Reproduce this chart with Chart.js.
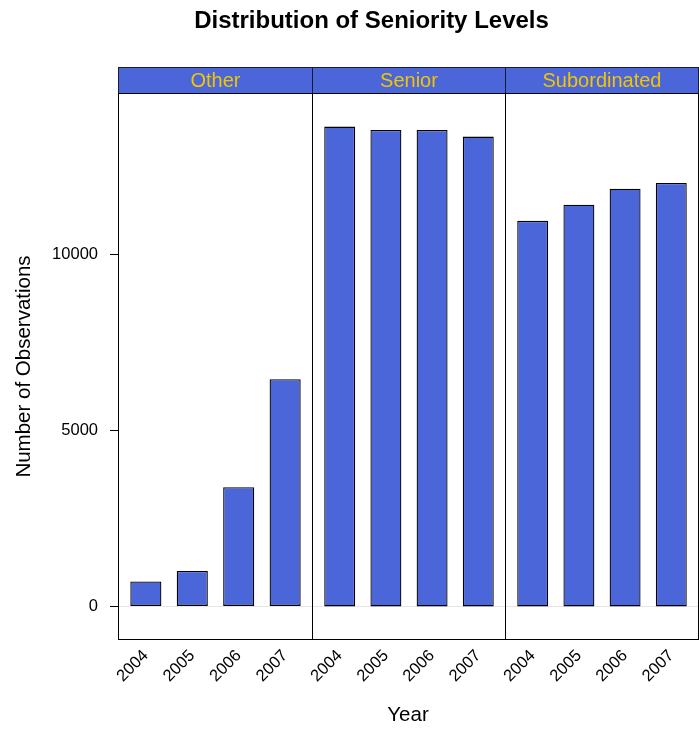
<!DOCTYPE html>
<html>
<head>
<meta charset="utf-8">
<script src="https://cdn.jsdelivr.net/npm/chart.js@4.4.1/dist/chart.umd.min.js"></script>
<style>
    body { margin: 0; background: #fff; font-family: "Liberation Sans", Arial, sans-serif; }
    #wrap { position: relative; width: 699px; height: 729px; overflow: hidden; }
    .panel { position: absolute; top: 0; height: 729px; }
    #title { position: absolute; top: 6px; left: 22px; width: 699px; text-align: center; font-weight: bold; font-size: 24px; }
    #xtitle { position: absolute; top: 702px; left: 118px; width: 580px; text-align: center; font-size: 20.5px; }
</style>
</head>
<body>
<div id="wrap">
    <div class="panel" style="left:0;width:313px"><canvas id="p0"></canvas></div>
    <div class="panel" style="left:292px;width:214px"><canvas id="p1"></canvas></div>
    <div class="panel" style="left:485px;width:214px"><canvas id="p2"></canvas></div>
    <div id="title">Distribution of Seniority Levels</div>
    <div id="xtitle">Year</div>
</div>
<script>
// --- Data ---
const years = ['2004', '2005', '2006', '2007'];
const panels = ['Other', 'Senior', 'Subordinated'];
const otherCounts = [710, 1005, 3390, 6460];
const seniorCounts = [13640, 13545, 13545, 13355];
const subordinatedCounts = [10960, 11420, 11875, 12035];
const yTicks = [0, 5000, 10000];

const BAR_COLOR = '#4a66d8';
const STRIP_TEXT = '#f2c500';
const FONT = "'Liberation Sans', Arial, sans-serif";

// panel border, strip on top and grey line at zero
const panelDecor = {
    id: 'panelDecor',
    beforeDatasetsDraw(chart, args, opts) {
        const { ctx, chartArea: a } = chart;
        const y0 = Math.round(chart.scales.y.getPixelForValue(0)) + 0.5;
        ctx.save();
        ctx.strokeStyle = '#e6e6e6';
        ctx.lineWidth = 1;
        ctx.beginPath();
        ctx.moveTo(a.left, y0);
        ctx.lineTo(a.right, y0);
        ctx.stroke();
        ctx.restore();
    },
    afterDraw(chart, args, opts) {
        const { ctx, chartArea: a } = chart;
        const l = Math.round(a.left) + 0.5;
        const r = Math.round(a.right) - 0.5;
        const t = Math.round(a.top) + 0.5;
        const b = Math.round(a.bottom) - 0.5;
        const stripTop = 67.5;
        ctx.save();
        ctx.fillStyle = BAR_COLOR;
        ctx.fillRect(l, stripTop, r - l, t - stripTop);
        ctx.strokeStyle = '#1a1a2e';
        ctx.lineWidth = 1;
        ctx.strokeRect(l, stripTop, r - l, t - stripTop);
        ctx.strokeStyle = '#000';
        ctx.strokeRect(l, t, r - l, b - t);
        ctx.fillStyle = STRIP_TEXT;
        ctx.font = "20px " + FONT;
        ctx.textAlign = 'center';
        ctx.textBaseline = 'middle';
        ctx.fillText(opts.name, (l + r) / 2, (stripTop + t) / 2 + 1);
        ctx.restore();
    }
};

function makePanel(id, idx, counts) {
    const first = idx === 0;
    return new Chart(document.getElementById(id), {
        type: 'bar',
        data: {
            datasets: [{
                data: counts.map((v, i) => ({ x: Number(years[i]), y: v })),
                backgroundColor: BAR_COLOR,
                borderColor: '#000',
                borderWidth: 1.3,
                borderSkipped: false,
                inflateAmount: 0,
                barPercentage: 0.67,
                categoryPercentage: 1
            }]
        },
        options: {
            responsive: true,
            maintainAspectRatio: false,
            animation: false,
            layout: { padding: { top: 93, left: first ? 0 : 20, right: 0, bottom: 0 } },
            plugins: {
                legend: { display: false },
                tooltip: { enabled: false },
                panelDecor: { name: panels[idx] }
            },
            scales: {
                x: {
                    type: 'linear',
                    offset: false,
                    min: 2003.4,
                    max: 2007.6,
                    afterBuildTicks: s => { s.ticks = years.map(y => ({ value: Number(y) })); },
                    afterFit: s => { s.height = 89; s.paddingLeft = 0; s.paddingRight = 0; },
                    grid: { display: false },
                    border: { display: false },
                    ticks: {
                        color: '#000',
                        font: { family: FONT, size: 16.5 },
                        maxRotation: 45,
                        minRotation: 45,
                        padding: -2,
                        callback: v => String(v)
                    }
                },
                y: {
                    display: first,
                    min: -955,
                    max: 14595,
                    afterBuildTicks: s => { s.ticks = yTicks.map(v => ({ value: v })); },
                    afterFit: s => { s.width = first ? 118 : 0; },
                    grid: { drawOnChartArea: false, color: '#000', tickLength: 8 },
                    border: { display: false },
                    ticks: {
                        color: '#000',
                        font: { family: FONT, size: 16.5 },
                        padding: 12,
                        callback: v => String(v)
                    },
                    title: {
                        display: true,
                        text: 'Number of Observations',
                        color: '#000',
                        font: { family: FONT, size: 20.5 },
                        padding: { top: 12, bottom: 0 }
                    }
                }
            }
        },
        plugins: [panelDecor]
    });
}

makePanel('p0', 0, otherCounts);
makePanel('p1', 1, seniorCounts);
makePanel('p2', 2, subordinatedCounts);
</script>
</body>
</html>
